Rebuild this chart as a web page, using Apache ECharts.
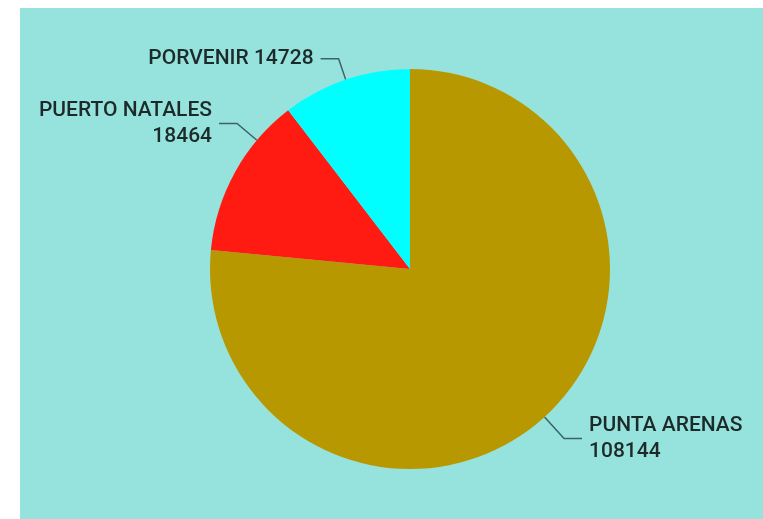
<!DOCTYPE html>
<html>
<head>
<meta charset="utf-8">
<script src="https://cdn.jsdelivr.net/npm/echarts@6/dist/echarts.min.js"></script>
<style>
html,body{margin:0;padding:0;background:#fff;}
#chart{width:763px;height:519px;}
</style>
</head>
<body>
<div id="chart"></div>
<script>
const categories = ['PUNTA ARENAS', 'PUERTO NATALES', 'PORVENIR'];
const values = [108144, 18464, 14728];
const colors = ['#B89800', '#FF1A12', '#00FFFF'];
const multiLine = [true, true, false];
// label styling (not data)
const lineLengths = [29, 26, 22];
const labelShiftY = [0, -36, 0];
const pieCenter = [410, 269];
const pieRadius = 200;

const chart = echarts.init(document.getElementById('chart'), null, {renderer: 'canvas'});
const data = categories.map((c, i) => ({
  name: c,
  value: values[i],
  itemStyle: {color: colors[i]},
  label: {formatter: multiLine[i] ? '{b}\n{c}' : '{b} {c}'},
  labelLine: {length: lineLengths[i]}
}));

chart.setOption({
  backgroundColor: '#ffffff',
  animation: false,
  graphic: [{
    type: 'rect', z: -10, silent: true,
    shape: {x: 20, y: 8, width: 743, height: 511},
    style: {fill: '#96E3DD'}
  }],
  series: [{
    type: 'pie',
    center: pieCenter,
    radius: pieRadius,
    startAngle: 90,
    clockwise: true,
    avoidLabelOverlap: true,
    data: data,
    label: {
      show: true,
      color: '#1c2a2a',
      fontFamily: 'Roboto',
      fontWeight: 500,
      fontSize: 21,
      lineHeight: 26,
      distanceToLabelLine: 7
    },
    labelLine: {
      show: true,
      length: 26,
      length2: 18,
      lineStyle: {color: '#3d6464', width: 1.5}
    },
    labelLayout: function (p) {
      const shift = labelShiftY[p.dataIndex];
      const pts = p.labelLinePoints;
      if (!shift || !pts) return {};
      const cx = pieCenter[0], cy = pieCenter[1];
      const r1 = Math.hypot(pts[1][0] - cx, pts[1][1] - cy);
      const ey = pts[1][1] + shift;
      const side = pts[1][0] < cx ? -1 : 1;
      const ex = cx + side * Math.sqrt(Math.max(0, r1 * r1 - (ey - cy) * (ey - cy)));
      const k = pieRadius / r1;
      const start = [cx + (ex - cx) * k, cy + (ey - cy) * k];
      const end = [ex + (pts[2][0] - pts[1][0]), ey];
      return {
        dx: ex - pts[1][0],
        dy: shift,
        labelLinePoints: [start, [ex, ey], end]
      };
    },
    emphasis: {disabled: true}
  }]
});
</script>
</body>
</html>
